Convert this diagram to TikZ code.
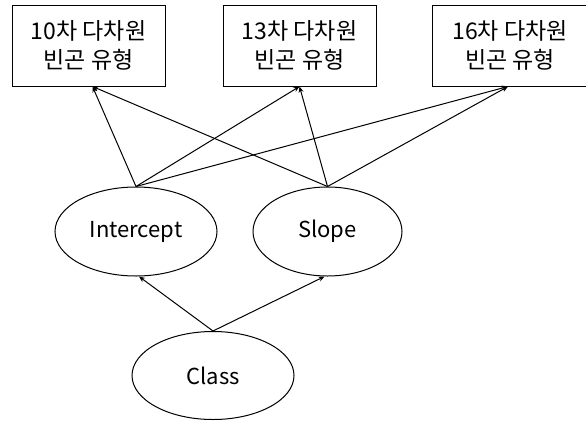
\documentclass[tikz,border=0pt]{standalone}
\usepackage{fontspec}
\setmainfont{Noto Sans CJK KR}
\usetikzlibrary{shapes.geometric,arrows.meta}
\begin{document}
\begin{tikzpicture}[x=1pt,y=-1pt,
  typebox/.style={draw,line width=1pt,minimum width=153pt,minimum height=81pt,inner sep=0pt,align=center,font=\fontsize{23}{28.5}\selectfont},
  latent/.style={draw,ellipse,line width=1pt,inner sep=0pt,font=\fontsize{22}{26}\selectfont},
  link/.style={line width=1pt,-{Stealth[length=6pt,width=5pt]}}]
\useasboundingbox (0,0) rectangle (586,421);
\node[typebox] (b1) at (88.5,45.5) {10차 다차원\\빈곤 유형};
\node[typebox] (b2) at (299.5,45.5) {13차 다차원\\빈곤 유형};
\node[typebox,minimum width=156pt] (b3) at (510,45.5) {16차 다차원\\빈곤 유형};
\node[latent,minimum width=162pt,minimum height=89pt] (ic) at (136,231.5) {Intercept};
\node[latent,minimum width=149pt,minimum height=89pt] (sl) at (327.5,231.5) {Slope};
\node[latent,minimum width=162pt,minimum height=88pt] (cl) at (213,375.5) {Class};
\draw[link] (ic.north) -- ([xshift=4pt]b1.south);
\draw[link] (ic.north) -- (b2.south);
\draw[link] (ic.north) -- ([xshift=-2pt]b3.south);
\draw[link] (sl.north) -- ([xshift=4pt]b1.south);
\draw[link] (sl.north) -- (b2.south);
\draw[link] (sl.north) -- ([xshift=-2pt]b3.south);
\draw[link] (cl.north) -- ([xshift=3pt]ic.south);
\draw[link] (cl.north) -- ([xshift=-3pt]sl.south);
\end{tikzpicture}
\end{document}
